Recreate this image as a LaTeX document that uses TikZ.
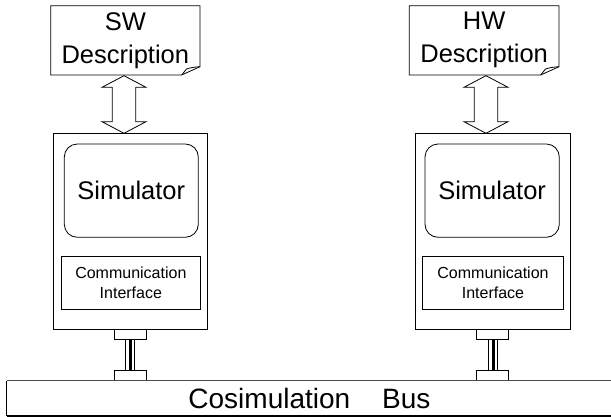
\documentclass[tikz,border=0pt]{standalone}
\usepackage{fontspec}
\setmainfont{Liberation Sans}
\usetikzlibrary{calc}

% two-headed hollow arrow between two named points (top, bottom)
\newcommand\twowayarrow[2]{%
  \draw[hollowarrow] (#1) -- ++(22,11.6) -- ++(-10.3,0)
    -- ($(#2)+(11.7,-11.6)$) -- ++(10.3,0) -- (#2)
    -- ++(-22,-11.6) -- ++(10.3,0)
    -- ($(#1)+(-11.7,11.6)$) -- ++(-10.3,0) -- cycle;}
% outline of a document with a curled lower right corner
\newcommand\docoutline[1]{%
  \draw[boxline] (#1.north west) -- (#1.north east)
    -- ($(#1.south east)+(0,-8.3)$) -- ($(#1.south east)+(-18.3,0)$)
    -- (#1.south west) -- cycle;
  \draw[boxline] ($(#1.south east)+(-18.3,0)$) -- ($(#1.south east)+(-13.5,-6)$)
    .. controls ($(#1.south east)+(-8,-7.6)$) .. ($(#1.south east)+(0,-8.3)$);}

\tikzset{
  boxline/.style={draw=black, line width=0.8pt, line join=miter},
  hollowarrow/.style={draw=black, line width=0.8pt, fill=white, line join=miter},
  plainbox/.style={boxline, inner sep=0pt, outer sep=0pt, fill=white},
  docbox/.style={inner sep=0pt, outer sep=0pt, align=center,
    font=\fontsize{25.5}{33}\selectfont},
  corebox/.style={plainbox, rounded corners=13pt,
    font=\fontsize{25.5}{30}\selectfont},
  ifbox/.style={plainbox, align=center, font=\fontsize{16}{20}\selectfont},
  plugbox/.style={plainbox},
}

\begin{document}
\begin{tikzpicture}[x=1pt, y=-1pt]
\useasboundingbox (0,0) rectangle (611,417);
\fill[white] (0,0) rectangle (611,417);

% ---------- software side ----------
\node[docbox, minimum width=149.3pt, minimum height=69.3pt] (swdoc) at (125.35,40.35) {SW\\Description};
\docoutline{swdoc}
\node[plainbox, minimum width=153.7pt, minimum height=196pt] (swsim) at (130.15,231.3) {};
\node[corebox, minimum width=134pt, minimum height=93.3pt] (swcore) at (131.3,190.65) {Simulator};
\node[ifbox, minimum width=139.7pt, minimum height=52.3pt] (swci) at (130.85,282.85) {Communication\\Interface};
\coordinate (swa) at (124,75.7);
\coordinate (swb) at (124,133.3);
\twowayarrow{swa}{swb}
\node[plugbox, minimum width=32.5pt, minimum height=9.7pt] (swtop) at (130.25,334.15) {};
\node[plugbox, minimum width=32.5pt, minimum height=10.2pt] (swbot) at (130.25,375.6) {};

% ---------- hardware side ----------
\node[docbox, minimum width=149.7pt, minimum height=69.3pt] (hwdoc) at (484.15,40.35) {HW\\Description};
\docoutline{hwdoc}
\node[plainbox, minimum width=154.3pt, minimum height=196pt] (hwsim) at (492.85,231.3) {};
\node[corebox, minimum width=134.3pt, minimum height=93.3pt] (hwcore) at (492.15,190.65) {Simulator};
\node[ifbox, minimum width=140.6pt, minimum height=52.3pt] (hwci) at (493,282.85) {Communication\\Interface};
\coordinate (hwa) at (486,75.7);
\coordinate (hwb) at (486,133.3);
\twowayarrow{hwa}{hwb}
\node[plugbox, minimum width=31.6pt, minimum height=9.7pt] (hwtop) at (492.5,334.15) {};
\node[plugbox, minimum width=31.6pt, minimum height=10.2pt] (hwbot) at (492.5,375.6) {};

% ---------- cables between plugs ----------
\foreach \p in {sw,hw}{
  \draw[line width=0.7pt] ($(\p top.south)+(-4.5,0)$) -- ($(\p bot.north)+(-4.5,0)$);
  \draw[line width=0.7pt] ($(\p top.south)+(4.5,0)$) -- ($(\p bot.north)+(4.5,0)$);
  \draw[line width=3.2pt] ($(\p top.south)+(0.6,0)$) -- ($(\p bot.north)+(0.6,0)$);
}

% ---------- bus ----------
\node[inner sep=0pt, outer sep=0pt, minimum width=605.6pt, minimum height=35pt,
  font=\fontsize{28}{30}\selectfont] (bus) at (309.5,398.2) {Cosimulation\hspace{32pt}Bus};
\draw[line width=1.1pt, draw=black!70] (bus.north east) -- (bus.north west);
\draw[line width=1.1pt] (bus.north west) -- (bus.south west);
\draw[line width=1.6pt] (bus.south west) -- (bus.south east);
\end{tikzpicture}
\end{document}
